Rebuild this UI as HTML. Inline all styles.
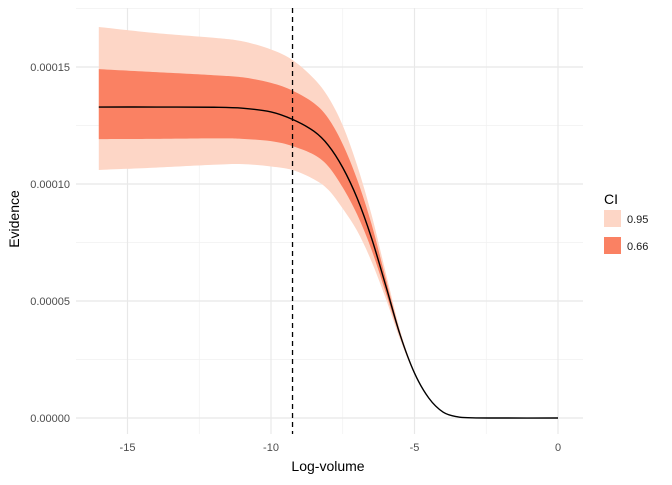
<!DOCTYPE html>
<html><head><meta charset="utf-8"><style>
body{margin:0;background:#fff;font-family:"Liberation Sans",Arial,sans-serif}
</style></head><body>
<svg id="chart" width="672" height="480" xmlns="http://www.w3.org/2000/svg">
<g id="grid"></g>
<g id="bands"></g>
<g id="axes"></g>
<text x="328" y="471" font-size="14" text-anchor="middle" fill="#000">Log-volume</text>
<text transform="translate(19,219) rotate(-90)" font-size="14" text-anchor="middle" fill="#000">Evidence</text>
<g>
<text x="604" y="204" font-size="14">CI</text>
<rect x="604" y="210" width="17" height="17" fill="#fdd6c6"/>
<text x="627" y="223" font-size="11" fill="#1a1a1a">0.95</text>
<rect x="604" y="237" width="17" height="17" fill="#fa8163"/>
<text x="627" y="250" font-size="11" fill="#1a1a1a">0.66</text>
</g>
</svg>
<script>
const xs    = [-16, -14, -12, -11, -10, -9.25, -8.5, -8, -7.5, -7, -6.5, -6, -5.5, -5, -4.5, -4, -3.5, -3, -2, 0];
const mean  = [1.329,1.329,1.328,1.324,1.308,1.276,1.225,1.165,1.07,0.94,0.77,0.565,0.355,0.192,0.085,0.025,0.005,0.001,0,0];
const hi95  = [1.671,1.645,1.625,1.610,1.575,1.530,1.45,1.37,1.25,1.08,0.87,0.62,0.375,0.197,0.086,0.025,0.005,0.001,0,0];
const lo95  = [1.060,1.070,1.082,1.085,1.075,1.060,1.02,0.975,0.895,0.80,0.67,0.51,0.335,0.187,0.084,0.025,0.005,0.001,0,0];
const hi66  = [1.491,1.478,1.465,1.456,1.432,1.399,1.345,1.28,1.17,1.02,0.83,0.595,0.365,0.195,0.085,0.025,0.005,0.001,0,0];
const lo66  = [1.192,1.193,1.195,1.193,1.183,1.162,1.125,1.075,0.985,0.87,0.72,0.535,0.345,0.19,0.085,0.025,0.005,0.001,0,0];
const xTicks = [-15,-10,-5,0];
const xTickLabels = ["-15","-10","-5","0"];
const yTicks = [0,5e-5,1e-4,1.5e-4];
const yTickLabels = ["0.00000","0.00005","0.00010","0.00015"];
const vline = -9.25;
const SC = 1e-4;
const X = v => 558 + v*28.7;
const Y = v => 418 - v/5e-5*117;
const NS='http://www.w3.org/2000/svg';
function mk(tag, attrs, parent){const e=document.createElementNS(NS,tag);for(const k in attrs)e.setAttribute(k,attrs[k]);parent.appendChild(e);return e;}
function path(pts){
  let d='M'+pts[0][0]+','+pts[0][1];
  for(let i=0;i<pts.length-1;i++){
    const p0=pts[Math.max(i-1,0)],p1=pts[i],p2=pts[i+1],p3=pts[Math.min(i+2,pts.length-1)];
    d+=' C'+(p1[0]+(p2[0]-p0[0])/6)+','+(p1[1]+(p2[1]-p0[1])/6)+' '+(p2[0]-(p3[0]-p1[0])/6)+','+(p2[1]-(p3[1]-p1[1])/6)+' '+p2[0]+','+p2[1];
  }
  return d;
}
const grid=document.getElementById('grid'), bands=document.getElementById('bands'), axes=document.getElementById('axes');
for(let v=-17.5; v<=0; v+=5){ if(X(v)<76) continue; const l=mk('line',{x1:X(v),x2:X(v),y1:8,y2:434,stroke:'#f0f0f0','stroke-width':0.7},grid);   }
for(let v=2.5e-5; v<2e-4; v+=5e-5){ if(Y(v)<8) continue; const l=mk('line',{x1:76,x2:583,y1:Y(v),y2:Y(v),stroke:'#f0f0f0','stroke-width':0.7},grid);   }
xTicks.forEach((v,i)=>{
  const l=mk('line',{x1:X(v),x2:X(v),y1:8,y2:434,stroke:'#e8e8e8','stroke-width':1.2},grid);
   
  const t=mk('text',{x:X(v),y:451,'font-size':11,'text-anchor':'middle',fill:'#4d4d4d'},axes); t.textContent=xTickLabels[i];
   
});
yTicks.forEach((v,i)=>{
  const l=mk('line',{x1:76,x2:583,y1:Y(v),y2:Y(v),stroke:'#e8e8e8','stroke-width':1.2},grid);
   
  const t=mk('text',{x:70,y:Y(v)+4,'font-size':11,'text-anchor':'end',fill:'#4d4d4d'},axes); t.textContent=yTickLabels[i];
   
});
function band(hi,lo,color,name){
  const top=xs.map((x,i)=>[X(x),Y(hi[i]*SC)]);
  const bot=xs.map((x,i)=>[X(x),Y(lo[i]*SC)]).reverse();
  const d=path(top)+' L'+path(bot).slice(1)+' Z';
  const p=mk('path',{d:d,fill:color},bands);
   
}
band(hi95,lo95,'#fdd6c6','ci-95-band');
band(hi66,lo66,'#fa8163','ci-66-band');
const m=mk('path',{d:path(xs.map((x,i)=>[X(x),Y(mean[i]*SC)])),fill:'none',stroke:'#000','stroke-width':1.4},bands);
 
const vl=mk('line',{x1:X(vline),x2:X(vline),y1:8,y2:434,stroke:'#000','stroke-width':1.3,'stroke-dasharray':'5,4'},bands);
 
</script>
</body></html>
